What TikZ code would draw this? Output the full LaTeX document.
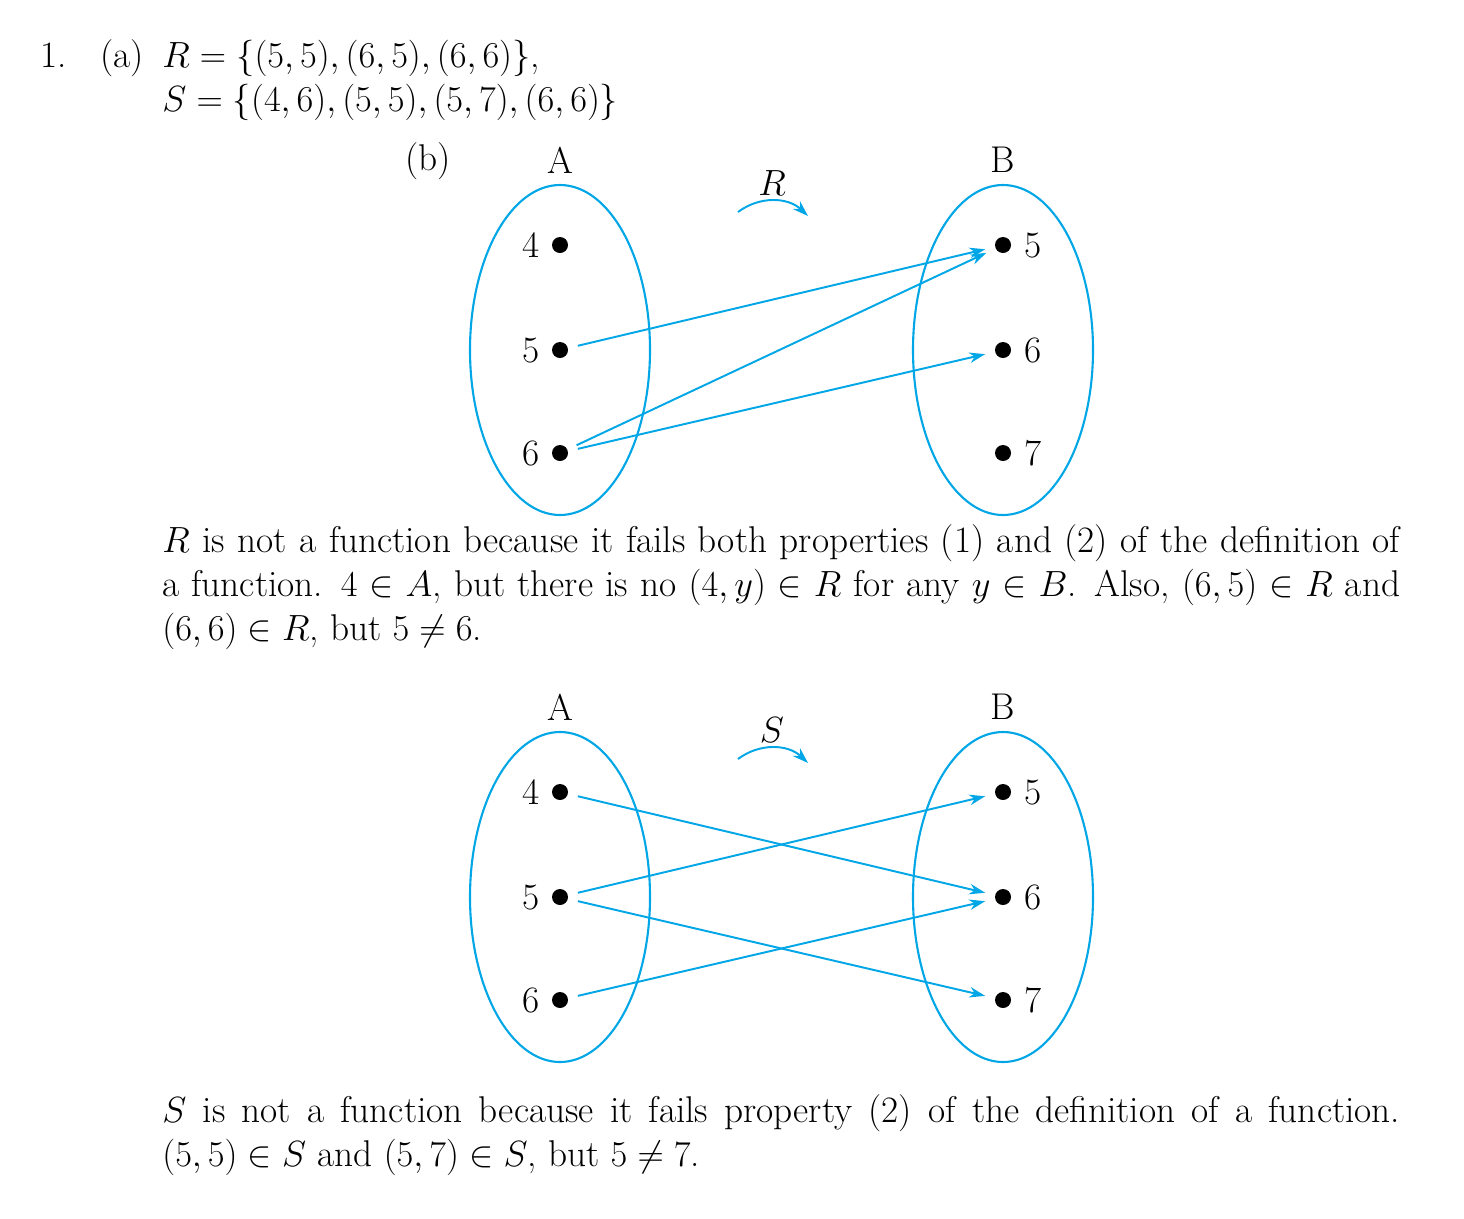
\documentclass[tikz,border=0pt]{standalone}
\usetikzlibrary{arrows.meta}
\definecolor{cy}{RGB}{0,166,230}
\begin{document}
\begin{tikzpicture}[x=0.02cm,y=-0.02cm,
  every node/.style={font=\fontsize{21.2}{25}\selectfont,inner sep=0pt},
  dot/.style={circle,fill=black,minimum size=0.32cm},
  ell/.style={draw=cy,line width=1.2pt},
  arr/.style={draw=cy,line width=1.1pt,-{Stealth[length=9pt,width=6pt]},shorten <=0.2cm,shorten >=0.2cm},
  para/.style={anchor=north west,text width=24.76cm,align=justify}]
\useasboundingbox (0,0) rectangle (1464,1218);
\node[anchor=base west] (n1) at (40,67) {1.};
\node[anchor=base west] (na) at (100,67) {(a)};
\node[anchor=base west] (ra) at (162,67) {$R=\{(5,5),(6,5),(6,6)\}$,};
\node[anchor=base west] (sa) at (162,111) {$S=\{(4,6),(5,5),(5,7),(6,6)\}$};
\node[anchor=base west] (nb) at (405,170) {(b)};
\foreach \p/\oy in {r/0,s/547}{
  \node (A\p) at (560,160+\oy) {A};
  \node (B\p) at (1003,160+\oy) {B};
  \draw[ell] (560,350+\oy) ellipse (90 and 165);
  \draw[ell] (1003,350+\oy) ellipse (90 and 165);
  \foreach \v/\yy in {4/245,5/350,6/453}{
    \node[dot] (a\p\v) at (560,\yy+\oy) {};
    \node[anchor=east] (la\p\v) at (540,\yy+\oy) {\v};}
  \foreach \v/\yy in {5/245,6/350,7/453}{
    \node[dot] (b\p\v) at (1003,\yy+\oy) {};
    \node[anchor=west] (lb\p\v) at (1024,\yy+\oy) {\v};}
  \coordinate (c1\p) at (738,212+\oy);
  \coordinate (c2\p) at (808,216+\oy);
  \draw[draw=cy,line width=1.1pt,-{Stealth[length=9pt,width=6pt]}] (c1\p) to[bend left=40] (c2\p);
}
\node (lr) at (772,183) {$R$};
\node (ls) at (772,730) {$S$};
\draw[arr] (ar5) -- (br5);
\draw[arr] (ar6) -- (br5);
\draw[arr] (ar6) -- (br6);
\draw[arr] (as4) -- (bs6);
\draw[arr] (as5) -- (bs5);
\draw[arr] (as5) -- (bs7);
\draw[arr] (as6) -- (bs6);
\node[para] (p1) at (162,524) {$R$ is not a function because it fails both properties (1) and (2) of the definition of\linebreak a function. $4\in A$, but there is no $(4,y)\in R$ for any $y\in B$. Also, $(6,5)\in R$ and $(6,6)\in R$, but $5\neq 6$.};
\node[para] (p2) at (162,1094) {$S$ is not a function because it fails property (2) of the definition of a function.\linebreak $(5,5)\in S$ and $(5,7)\in S$, but $5\neq 7$.};
\end{tikzpicture}
\end{document}
